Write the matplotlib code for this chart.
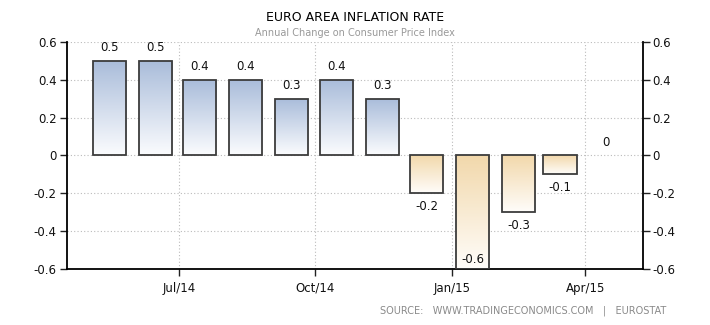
import matplotlib
matplotlib.use('Agg')
import matplotlib.pyplot as plt
from matplotlib.colors import LinearSegmentedColormap
import numpy as np
import datetime as dt

# ----- data --------------------------------------------------
months = ['2014-05-15', '2014-06-15', '2014-07-15', '2014-08-15', '2014-09-15', '2014-10-15',
          '2014-11-15', '2014-12-15', '2015-01-15', '2015-02-15', '2015-03-15', '2015-04-15']
rates = [0.5, 0.5, 0.4, 0.4, 0.3, 0.4, 0.3, -0.2, -0.6, -0.3, -0.1, 0.0]
tick_dates = ['2014-07-01', '2014-10-01', '2015-01-01', '2015-04-01']
tick_labels = ['Jul/14', 'Oct/14', 'Jan/15', 'Apr/15']
yticks = [-0.6, -0.4, -0.2, 0, 0.2, 0.4, 0.6]

dates = [dt.datetime.strptime(d, '%Y-%m-%d') for d in months]
xt = [dt.datetime.strptime(d, '%Y-%m-%d') for d in tick_dates]

pos_cmap = LinearSegmentedColormap.from_list('pos', ['#fbfcfe', '#a9bcda'])
neg_cmap = LinearSegmentedColormap.from_list('neg', ['#fffdfa', '#f2d8ab'])

fig = plt.figure(figsize=(7.1, 3.25), dpi=100, facecolor='w')
ax = fig.add_axes([0.0937, 0.1723, 0.8119, 0.6985])

width = 22.3
ymin, ymax = -0.6, 0.6
bars = ax.bar(dates, rates, width=width, facecolor='none', edgecolor='#3c3c3c',
              linewidth=1.3, zorder=3)

# gradient fill clipped to each bar
grad = np.linspace(0, 1, 256).reshape(-1, 1)
for b, v in zip(bars, rates):
    b.set_joinstyle('miter')
    if v == 0:
        b.set_visible(False)
        continue
    x0 = b.get_x()
    x1 = x0 + b.get_width()
    if v > 0:
        im = ax.imshow(grad, extent=[x0, x1, 0, v], origin='lower', aspect='auto',
                       cmap=pos_cmap, zorder=2)
    else:
        im = ax.imshow(grad, extent=[x0, x1, v, 0], origin='lower', aspect='auto',
                       cmap=neg_cmap, zorder=2)
    im.set_clip_path(b)

# value labels
for d, v in zip(dates, rates):
    lbl = ('%g' % v)
    if v >= 0:
        ax.text(d, v + 0.035, lbl, ha='center', va='bottom', fontsize=8.5, color='#111111')
    elif v <= ymin:
        ax.text(d, ymin + 0.015, lbl, ha='center', va='bottom', fontsize=8.5, color='#111111', zorder=4)
    else:
        ax.text(d, v - 0.035, lbl, ha='center', va='top', fontsize=8.5, color='#111111')

ax.set_xlim(dt.datetime(2014, 4, 16), dt.datetime(2015, 5, 10))
ax.set_ylim(ymin, ymax)
ax.set_yticks(yticks)
ax.set_yticklabels(['%g' % t for t in yticks])
ax.set_xticks(xt)
ax.set_xticklabels(tick_labels)

ax.tick_params(axis='y', which='both', left=True, right=True, labelleft=True, labelright=True,
               length=5, width=1, color='#222222', labelsize=8.5, pad=2, labelcolor='#111111')
ax.tick_params(axis='x', length=5, width=1, color='#222222', labelsize=8.5, pad=4,
               labelcolor='#111111')

ax.grid(True, which='major', axis='both', linestyle=(0, (1, 2)), linewidth=0.8,
        color='#bbbbbb', zorder=0)
ax.set_axisbelow(True)
for s in ['left', 'right', 'bottom']:
    ax.spines[s].set_color('#000000')
    ax.spines[s].set_linewidth(1.3)
ax.spines['top'].set_visible(False)

fig.text(0.5, 0.945, 'EURO AREA INFLATION RATE', ha='center', va='center',
         fontsize=9, color='#000000')
fig.text(0.5, 0.897, 'Annual Change on Consumer Price Index', ha='center', va='center',
         fontsize=7, color='#999999')
fig.text(0.938, 0.045, 'SOURCE:   WWW.TRADINGECONOMICS.COM   |   EUROSTAT', ha='right',
         va='center', fontsize=7, color='#8a8a8a')

fig.savefig('out.png', dpi=100)
